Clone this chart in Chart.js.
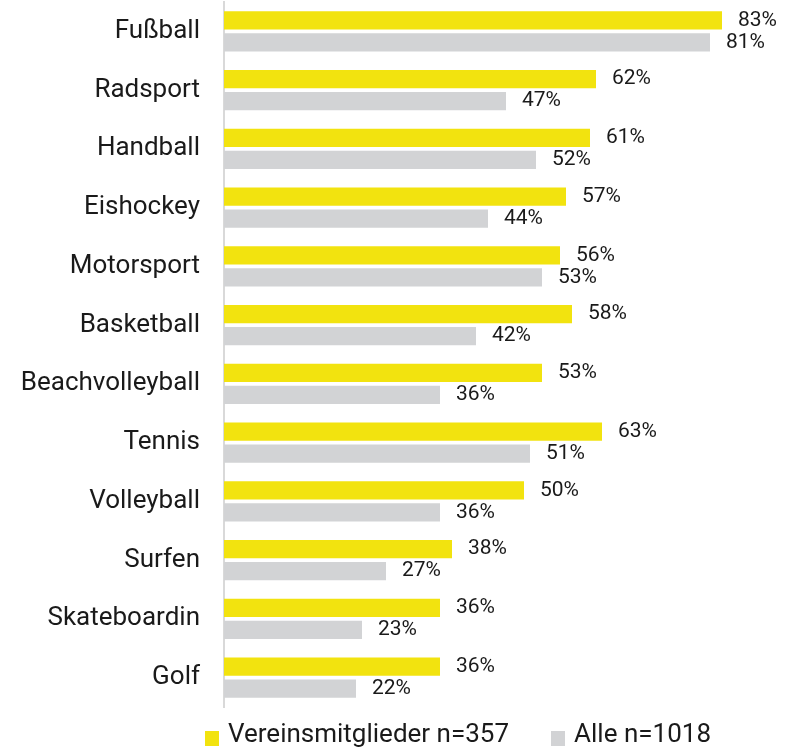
<!DOCTYPE html>
<html>
<head>
<meta charset="utf-8">
<script src="https://cdn.jsdelivr.net/npm/chart.js@4"></script>
<style>
  body { margin: 0; background: #fff; }
  #wrap { position: relative; width: 793px; height: 750px; }
  canvas { display: block; }
  #legend { position: absolute; left: 205px; top: 718px; font: 26px Roboto, sans-serif; color: #1a1a1a; white-space: nowrap; line-height: 30px; }
  #legend span.box { display: inline-block; width: 14px; height: 15px; vertical-align: -4px; margin-right: 9px; }
  #legend span.item { margin-right: 42px; }
</style>
</head>
<body>
<div id="wrap">
  <canvas id="chart" width="793" height="750"></canvas>
  <div id="legend"></div>
</div>
<script>
const categories = ['Fußball', 'Radsport', 'Handball', 'Eishockey', 'Motorsport', 'Basketball',
  'Beachvolleyball', 'Tennis', 'Volleyball', 'Surfen', 'Skateboardin', 'Golf']
const vereinsmitglieder = [83, 62, 61, 57, 56, 58, 53, 63, 50, 38, 36, 36]
const alle = [81, 47, 52, 44, 53, 42, 36, 51, 36, 27, 23, 22]
const seriesNames = ['Vereinsmitglieder n=357', 'Alle n=1018']
const colors = ['#f2e30f', '#d2d3d5']

// Prozentwerte neben die Balken schreiben
const valueLabels = {
  id: 'valueLabels',
  afterDatasetsDraw(chart) {
    const ctx = chart.ctx
    ctx.save()
    ctx.font = '21px Roboto, sans-serif'
    ctx.fillStyle = '#1a1a1a'
    ctx.textBaseline = 'middle'
    chart.data.datasets.forEach((ds, i) => {
      chart.getDatasetMeta(i).data.forEach((bar, j) => {
        ctx.fillText(ds.data[j] + '%', bar.x + 16, bar.y)
      })
    })
    ctx.restore()
  }
}

new Chart(document.getElementById('chart'), {
  type: 'bar',
  data: {
    labels: categories,
    datasets: [
      { label: seriesNames[0], data: vereinsmitglieder, backgroundColor: colors[0] },
      { label: seriesNames[1], data: alle, backgroundColor: colors[1] }
    ]
  },
  options: {
    indexAxis: 'y',
    responsive: false,
    animation: false,
    categoryPercentage: 0.75,
    barPercentage: 0.82,
    layout: { padding: { top: 2, right: 5, bottom: 43, left: 0 } },
    scales: {
      x: {
        min: 0,
        max: 94,
        display: false
      },
      y: {
        afterFit(scale) {
          scale.width = 224
          // tick padding soll nur horizontal wirken
          scale.paddingTop = 0
          scale.paddingBottom = 0
        },
        grid: { display: false, drawTicks: false },
        border: { display: true, color: '#d9d9d9', width: 2 },
        ticks: {
          color: '#1a1a1a',
          padding: 24,
          font: { family: 'Roboto', size: 26 }
        }
      }
    },
    plugins: {
      legend: { display: false },
      tooltip: { enabled: false }
    }
  },
  plugins: [valueLabels]
})

const legend = document.getElementById('legend')
seriesNames.forEach((name, i) => {
  const item = document.createElement('span')
  item.className = 'item'
  item.innerHTML = '<span class="box" style="background:' + colors[i] + '"></span>' + name
  legend.appendChild(item)
})
</script>
</body>
</html>
